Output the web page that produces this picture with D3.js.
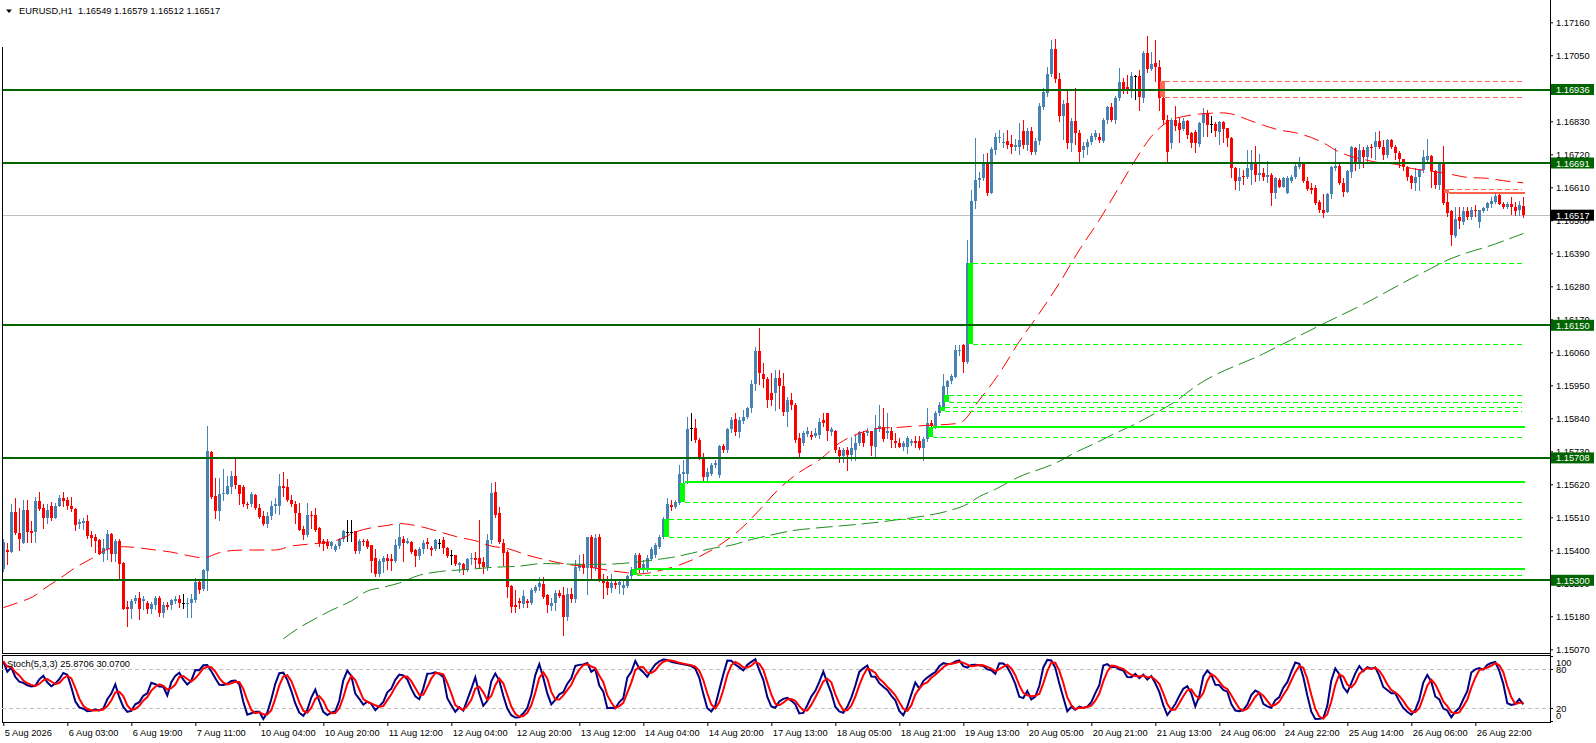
<!DOCTYPE html>
<html><head><meta charset="utf-8">
<script src="https://cdn.jsdelivr.net/npm/d3@7"></script>
<style>
html,body{margin:0;padding:0;background:#fff;overflow:hidden;}
svg{display:block;}
text{font-family:"Liberation Sans",Arial,sans-serif;font-size:9.3px;}
</style></head><body>
<svg id="c" width="1596" height="743"></svg>
<script>
// ---------------- DATA ----------------
const symbolTitle = "EURUSD,H1";
const lastQuote = [1.16549, 1.16579, 1.16512, 1.16517];
const currentPrice = 1.16517;

const opens = [1.15338,1.15400,1.15394,1.15529,1.15458,1.15425,1.15536,1.15463,1.15461,1.15563,
1.15541,1.15509,1.15549,1.15507,1.15547,1.15575,1.15567,1.15549,1.15538,1.15487,
1.15492,1.15497,1.15452,1.15443,1.15433,1.15386,1.15403,1.15456,1.15386,1.15431,
1.15359,1.15210,1.15205,1.15231,1.15242,1.15231,1.15225,1.15203,1.15216,1.15242,
1.15192,1.15219,1.15216,1.15231,1.15236,1.15223,1.15221,1.15223,1.15234,1.15294,
1.15270,1.15331,1.15727,1.15581,1.15531,1.15586,1.15589,1.15612,1.15649,1.15619,
1.15612,1.15556,1.15553,1.15583,1.15542,1.15516,1.15489,1.15514,1.15547,1.15547,
1.15614,1.15612,1.15569,1.15555,1.15525,1.15472,1.15450,1.15519,1.15519,1.15474,
1.15432,1.15427,1.15414,1.15401,1.15414,1.15436,1.15461,1.15461,1.15463,1.15397,
1.15431,1.15431,1.15416,1.15373,1.15320,1.15361,1.15373,1.15370,1.15364,1.15414,
1.15438,1.15425,1.15427,1.15401,1.15381,1.15403,1.15428,1.15406,1.15403,1.15425,
1.15434,1.15406,1.15384,1.15384,1.15351,1.15356,1.15336,1.15370,1.15373,1.15373,
1.15362,1.15345,1.15434,1.15595,1.15523,1.15425,1.15395,1.15281,1.15217,1.15232,
1.15221,1.15232,1.15223,1.15265,1.15277,1.15287,1.15251,1.15214,1.15223,1.15258,
1.15251,1.15179,1.15256,1.15236,1.15340,1.15356,1.15340,1.15445,1.15340,1.15443,
1.15303,1.15295,1.15273,1.15292,1.15284,1.15273,1.15281,1.15314,1.15336,1.15384,
1.15336,1.15336,1.15370,1.15384,1.15412,1.15443,1.15501,1.15551,1.15545,1.15559,
1.15656,1.15656,1.15806,1.15806,1.15767,1.15712,1.15645,1.15656,1.15684,1.15651,
1.15747,1.15734,1.15803,1.15836,1.15795,1.15832,1.15845,1.15873,1.15956,1.16065,
1.15987,1.15970,1.15923,1.15923,1.15976,1.15947,1.15862,1.15901,1.15884,1.15773,
1.15757,1.15788,1.15785,1.15782,1.15785,1.15833,1.15857,1.15793,1.15799,1.15733,
1.15713,1.15733,1.15718,1.15735,1.15759,1.15790,1.15790,1.15796,1.15744,1.15804,
1.15810,1.15790,1.15799,1.15766,1.15759,1.15746,1.15746,1.15757,1.15766,1.15766,
1.15740,1.15770,1.15824,1.15814,1.15857,1.15879,1.15946,1.15963,1.15979,1.16063,
1.16085,1.16029,1.16357,1.16563,1.16633,1.16640,1.16690,1.16590,1.16735,1.16774,
1.16757,1.16766,1.16755,1.16746,1.16744,1.16796,1.16751,1.16796,1.16729,1.16766,
1.16879,1.16926,1.16988,1.17071,1.16970,1.16846,1.16890,1.16757,1.16832,1.16790,
1.16733,1.16746,1.16762,1.16779,1.16779,1.16766,1.16835,1.16877,1.16835,1.16907,
1.16962,1.16944,1.16932,1.16981,1.16981,1.16907,1.17057,1.17004,1.17024,1.17010,
1.16907,1.16835,1.16759,1.16835,1.16824,1.16804,1.16831,1.16792,1.16795,1.16756,
1.16823,1.16856,1.16821,1.16821,1.16795,1.16828,1.16806,1.16776,1.16673,1.16632,
1.16647,1.16643,1.16667,1.16695,1.16651,1.16656,1.16643,1.16651,1.16592,1.16634,
1.16612,1.16592,1.16632,1.16643,1.16676,1.16690,1.16632,1.16608,1.16606,1.16562,
1.16534,1.16529,1.16587,1.16673,1.16681,1.16625,1.16595,1.16662,1.16740,1.16695,
1.16736,1.16712,1.16743,1.16743,1.16765,1.16743,1.16717,1.16767,1.16743,1.16725,
1.16703,1.16678,1.16647,1.16623,1.16645,1.16667,1.16701,1.16714,1.16665,1.16617,
1.16692,1.16562,1.16532,1.16447,1.16510,1.16495,1.16532,1.16512,1.16536,1.16495,
1.16532,1.16540,1.16556,1.16562,1.16584,1.16556,1.16543,1.16554,1.16545,1.16536,
1.16549];

const highs = [1.15436,1.15425,1.15556,1.15575,1.15542,1.15569,1.15569,1.15497,1.15578,1.15595,
1.15553,1.15553,1.15560,1.15558,1.15583,1.15595,1.15578,1.15578,1.15542,1.15503,
1.15508,1.15519,1.15464,1.15453,1.15438,1.15436,1.15469,1.15458,1.15436,1.15436,
1.15361,1.15231,1.15236,1.15250,1.15261,1.15248,1.15231,1.15228,1.15248,1.15248,
1.15228,1.15228,1.15236,1.15248,1.15250,1.15253,1.15242,1.15253,1.15309,1.15303,
1.15338,1.15814,1.15730,1.15642,1.15642,1.15672,1.15647,1.15664,1.15703,1.15619,
1.15619,1.15561,1.15594,1.15586,1.15553,1.15531,1.15527,1.15564,1.15575,1.15656,
1.15660,1.15636,1.15583,1.15564,1.15558,1.15481,1.15558,1.15531,1.15542,1.15478,
1.15436,1.15436,1.15431,1.15420,1.15442,1.15469,1.15501,1.15501,1.15464,1.15436,
1.15438,1.15436,1.15416,1.15403,1.15370,1.15381,1.15386,1.15386,1.15438,1.15489,
1.15447,1.15442,1.15431,1.15403,1.15410,1.15434,1.15440,1.15414,1.15436,1.15436,
1.15445,1.15412,1.15401,1.15384,1.15362,1.15359,1.15373,1.15390,1.15395,1.15501,
1.15379,1.15456,1.15625,1.15628,1.15545,1.15436,1.15401,1.15284,1.15267,1.15240,
1.15267,1.15236,1.15273,1.15284,1.15312,1.15312,1.15256,1.15240,1.15267,1.15267,
1.15279,1.15273,1.15276,1.15367,1.15384,1.15387,1.15445,1.15451,1.15456,1.15454,
1.15321,1.15314,1.15321,1.15306,1.15303,1.15301,1.15317,1.15345,1.15390,1.15390,
1.15367,1.15384,1.15412,1.15425,1.15451,1.15512,1.15573,1.15567,1.15567,1.15684,
1.15701,1.15843,1.15856,1.15836,1.15773,1.15723,1.15673,1.15690,1.15701,1.15751,
1.15756,1.15806,1.15845,1.15856,1.15845,1.15867,1.15879,1.15967,1.16078,1.16141,
1.16023,1.15978,1.15990,1.16001,1.16001,1.15990,1.15912,1.15923,1.15890,1.15790,
1.15796,1.15810,1.15796,1.15807,1.15840,1.15859,1.15859,1.15810,1.15801,1.15746,
1.15740,1.15746,1.15779,1.15785,1.15799,1.15799,1.15807,1.15799,1.15852,1.15885,
1.15874,1.15857,1.15810,1.15790,1.15774,1.15766,1.15781,1.15770,1.15781,1.15781,
1.15777,1.15874,1.15833,1.15866,1.15893,1.15988,1.15968,1.15988,1.16085,1.16085,
1.16088,1.16435,1.16601,1.16774,1.16660,1.16721,1.16724,1.16746,1.16790,1.16800,
1.16790,1.16801,1.16785,1.16770,1.16824,1.16835,1.16807,1.16810,1.16775,1.16890,
1.16940,1.17010,1.17100,1.17105,1.16990,1.16900,1.16935,1.16840,1.16940,1.16800,
1.16760,1.16770,1.16790,1.16800,1.16790,1.16840,1.16882,1.16890,1.16915,1.17008,
1.16975,1.16985,1.16995,1.16985,1.17000,1.17065,1.17115,1.17060,1.17100,1.17035,
1.16912,1.16850,1.16840,1.16880,1.16840,1.16840,1.16834,1.16795,1.16801,1.16828,
1.16873,1.16867,1.16847,1.16828,1.16832,1.16832,1.16806,1.16778,1.16678,1.16673,
1.16667,1.16736,1.16736,1.16747,1.16721,1.16673,1.16698,1.16656,1.16645,1.16640,
1.16645,1.16647,1.16651,1.16687,1.16710,1.16692,1.16643,1.16623,1.16617,1.16567,
1.16587,1.16592,1.16681,1.16740,1.16687,1.16640,1.16667,1.16747,1.16745,1.16756,
1.16745,1.16751,1.16756,1.16795,1.16798,1.16767,1.16770,1.16770,1.16751,1.16732,
1.16706,1.16681,1.16651,1.16673,1.16670,1.16734,1.16770,1.16717,1.16667,1.16695,
1.16747,1.16590,1.16534,1.16545,1.16543,1.16545,1.16545,1.16545,1.16551,1.16534,
1.16545,1.16562,1.16579,1.16592,1.16595,1.16562,1.16562,1.16579,1.16562,1.16565,
1.16579];

const lows = [1.15330,1.15353,1.15394,1.15453,1.15401,1.15425,1.15427,1.15427,1.15427,1.15536,
1.15475,1.15492,1.15500,1.15507,1.15547,1.15547,1.15538,1.15531,1.15469,1.15475,
1.15472,1.15442,1.15414,1.15394,1.15386,1.15364,1.15370,1.15364,1.15364,1.15303,
1.15203,1.15148,1.15175,1.15225,1.15170,1.15203,1.15192,1.15192,1.15203,1.15181,
1.15179,1.15203,1.15203,1.15225,1.15212,1.15209,1.15179,1.15179,1.15228,1.15259,
1.15268,1.15268,1.15575,1.15508,1.15501,1.15569,1.15586,1.15592,1.15608,1.15553,
1.15549,1.15542,1.15547,1.15538,1.15508,1.15486,1.15478,1.15505,1.15525,1.15522,
1.15581,1.15564,1.15549,1.15492,1.15467,1.15438,1.15447,1.15475,1.15464,1.15414,
1.15401,1.15408,1.15408,1.15397,1.15408,1.15431,1.15431,1.15431,1.15390,1.15392,
1.15416,1.15408,1.15327,1.15316,1.15316,1.15327,1.15338,1.15336,1.15361,1.15408,
1.15364,1.15423,1.15392,1.15347,1.15370,1.15390,1.15406,1.15384,1.15401,1.15406,
1.15390,1.15379,1.15354,1.15351,1.15329,1.15321,1.15332,1.15356,1.15345,1.15340,
1.15323,1.15336,1.15425,1.15512,1.15425,1.15351,1.15245,1.15195,1.15195,1.15206,
1.15212,1.15210,1.15221,1.15262,1.15267,1.15240,1.15195,1.15201,1.15201,1.15245,
1.15117,1.15168,1.15229,1.15229,1.15334,1.15323,1.15256,1.15306,1.15334,1.15299,
1.15240,1.15256,1.15262,1.15273,1.15259,1.15256,1.15279,1.15306,1.15334,1.15329,
1.15329,1.15332,1.15367,1.15379,1.15406,1.15440,1.15495,1.15534,1.15540,1.15556,
1.15628,1.15623,1.15768,1.15762,1.15706,1.15634,1.15634,1.15650,1.15678,1.15645,
1.15728,1.15728,1.15795,1.15784,1.15779,1.15825,1.15840,1.15862,1.15934,1.15956,
1.15945,1.15879,1.15884,1.15867,1.15873,1.15851,1.15815,1.15870,1.15762,1.15712,
1.15752,1.15780,1.15770,1.15777,1.15774,1.15813,1.15768,1.15785,1.15729,1.15696,
1.15696,1.15668,1.15702,1.15702,1.15752,1.15748,1.15785,1.15718,1.15710,1.15796,
1.15766,1.15774,1.15746,1.15746,1.15744,1.15735,1.15724,1.15750,1.15746,1.15737,
1.15702,1.15766,1.15812,1.15807,1.15852,1.15877,1.15918,1.15957,1.15977,1.16050,
1.15993,1.16023,1.16357,1.16540,1.16610,1.16633,1.16585,1.16590,1.16720,1.16760,
1.16744,1.16740,1.16725,1.16735,1.16720,1.16740,1.16735,1.16720,1.16720,1.16755,
1.16870,1.16915,1.16980,1.16960,1.16830,1.16770,1.16740,1.16730,1.16755,1.16690,
1.16712,1.16720,1.16755,1.16770,1.16760,1.16760,1.16825,1.16830,1.16825,1.16900,
1.16925,1.16925,1.16910,1.16905,1.16868,1.16895,1.16995,1.17000,1.16965,1.16868,
1.16820,1.16690,1.16740,1.16800,1.16760,1.16801,1.16776,1.16743,1.16728,1.16747,
1.16781,1.16781,1.16795,1.16781,1.16756,1.16762,1.16747,1.16645,1.16603,1.16601,
1.16621,1.16640,1.16621,1.16632,1.16634,1.16634,1.16628,1.16551,1.16573,1.16610,
1.16612,1.16592,1.16628,1.16640,1.16673,1.16628,1.16601,1.16592,1.16556,1.16529,
1.16510,1.16529,1.16576,1.16667,1.16621,1.16581,1.16595,1.16643,1.16667,1.16673,
1.16678,1.16690,1.16712,1.16706,1.16740,1.16706,1.16712,1.16740,1.16703,1.16676,
1.16667,1.16634,1.16606,1.16601,1.16601,1.16662,1.16695,1.16612,1.16606,1.16603,
1.16556,1.16514,1.16417,1.16445,1.16473,1.16487,1.16503,1.16506,1.16514,1.16478,
1.16529,1.16536,1.16545,1.16559,1.16554,1.16540,1.16540,1.16521,1.16517,1.16517,
1.16512];

const closes = [1.15427,1.15394,1.15529,1.15458,1.15438,1.15536,1.15461,1.15458,1.15566,1.15538,
1.15507,1.15536,1.15508,1.15549,1.15575,1.15563,1.15547,1.15538,1.15486,1.15494,
1.15497,1.15447,1.15442,1.15431,1.15386,1.15408,1.15453,1.15386,1.15431,1.15353,
1.15205,1.15203,1.15231,1.15242,1.15203,1.15239,1.15203,1.15220,1.15242,1.15192,
1.15216,1.15212,1.15233,1.15236,1.15223,1.15223,1.15225,1.15236,1.15294,1.15268,
1.15334,1.15730,1.15578,1.15531,1.15589,1.15592,1.15614,1.15649,1.15616,1.15586,
1.15553,1.15553,1.15586,1.15542,1.15512,1.15489,1.15516,1.15549,1.15553,1.15614,
1.15607,1.15567,1.15553,1.15525,1.15469,1.15450,1.15519,1.15516,1.15469,1.15425,
1.15420,1.15414,1.15427,1.15414,1.15438,1.15463,1.15461,1.15461,1.15397,1.15431,
1.15427,1.15412,1.15364,1.15320,1.15363,1.15373,1.15364,1.15364,1.15416,1.15444,
1.15425,1.15431,1.15394,1.15381,1.15405,1.15425,1.15421,1.15401,1.15434,1.15425,
1.15406,1.15381,1.15384,1.15356,1.15359,1.15336,1.15370,1.15376,1.15367,1.15356,
1.15345,1.15434,1.15592,1.15517,1.15428,1.15390,1.15279,1.15212,1.15212,1.15225,
1.15247,1.15223,1.15267,1.15279,1.15290,1.15245,1.15217,1.15225,1.15258,1.15247,
1.15179,1.15256,1.15236,1.15345,1.15356,1.15340,1.15443,1.15340,1.15440,1.15301,
1.15290,1.15273,1.15292,1.15284,1.15295,1.15284,1.15314,1.15336,1.15384,1.15336,
1.15356,1.15373,1.15403,1.15417,1.15443,1.15506,1.15556,1.15543,1.15560,1.15656,
1.15662,1.15803,1.15806,1.15767,1.15712,1.15645,1.15662,1.15684,1.15692,1.15747,
1.15734,1.15803,1.15834,1.15795,1.15834,1.15845,1.15873,1.15956,1.16065,1.15990,
1.15970,1.15901,1.15901,1.15976,1.15947,1.15862,1.15901,1.15884,1.15767,1.15723,
1.15790,1.15796,1.15777,1.15790,1.15829,1.15824,1.15796,1.15804,1.15735,1.15713,
1.15733,1.15718,1.15740,1.15759,1.15793,1.15759,1.15799,1.15748,1.15807,1.15813,
1.15770,1.15799,1.15768,1.15757,1.15746,1.15759,1.15774,1.15763,1.15759,1.15740,
1.15770,1.15824,1.15814,1.15857,1.15885,1.15948,1.15963,1.15982,1.16066,1.16068,
1.16029,1.16357,1.16563,1.16635,1.16640,1.16690,1.16590,1.16737,1.16777,1.16777,
1.16762,1.16751,1.16744,1.16751,1.16768,1.16751,1.16796,1.16729,1.16766,1.16881,
1.16929,1.16988,1.17071,1.16970,1.16846,1.16888,1.16757,1.16832,1.16790,1.16729,
1.16748,1.16762,1.16781,1.16790,1.16768,1.16835,1.16877,1.16835,1.16907,1.16962,
1.16932,1.16932,1.16981,1.16981,1.16910,1.17057,1.17004,1.17021,1.17010,1.16907,
1.16835,1.16729,1.16835,1.16815,1.16801,1.16831,1.16784,1.16758,1.16758,1.16823,
1.16856,1.16817,1.16821,1.16797,1.16828,1.16804,1.16776,1.16673,1.16632,1.16645,
1.16643,1.16673,1.16695,1.16651,1.16656,1.16643,1.16651,1.16592,1.16640,1.16612,
1.16640,1.16640,1.16645,1.16681,1.16687,1.16632,1.16603,1.16601,1.16559,1.16534,
1.16525,1.16587,1.16678,1.16681,1.16625,1.16595,1.16664,1.16743,1.16695,1.16734,
1.16712,1.16745,1.16740,1.16765,1.16743,1.16717,1.16767,1.16743,1.16725,1.16703,
1.16678,1.16645,1.16623,1.16645,1.16667,1.16710,1.16714,1.16665,1.16617,1.16692,
1.16559,1.16525,1.16451,1.16503,1.16498,1.16532,1.16512,1.16534,1.16532,1.16534,
1.16540,1.16559,1.16565,1.16581,1.16556,1.16543,1.16556,1.16545,1.16532,1.16551,
1.16517];

const timeLabels = ["5 Aug 2026","6 Aug 03:00","6 Aug 19:00","7 Aug 11:00","10 Aug 04:00","10 Aug 20:00",
"11 Aug 12:00","12 Aug 04:00","12 Aug 20:00","13 Aug 12:00","14 Aug 04:00","14 Aug 20:00",
"17 Aug 13:00","18 Aug 05:00","18 Aug 21:00","19 Aug 13:00","20 Aug 05:00","20 Aug 21:00",
"21 Aug 13:00","24 Aug 06:00","24 Aug 22:00","25 Aug 14:00","26 Aug 06:00","26 Aug 22:00"];
const timeLabelStep = 16;

const priceTicks = [1.17160,1.17050,1.16940,1.16830,1.16720,1.16610,1.16500,1.16390,1.16280,1.16170,
1.16060,1.15950,1.15840,1.15730,1.15620,1.15510,1.15400,1.15290,1.15180,1.15070];

const levelPrices = [1.16936, 1.16691, 1.16150, 1.15708, 1.15300];

// moving averages read at sample bars
const redMaBars = [0,4,8,10,14,18,22,26,30,34,38,42,46,50,54,58,62,68,72,76,80,84,88,92,96,99,104,109,114,118,122,126,131,136,141,146,151,156,159,164,169,174,179,184,189,194,199,204,209,214,219,224,229,234,239,244,249,254,259,264,269,274,279,283,287,292,295,299,305,308,311,315,319,323,327,331,333,336,340,344,348,352,357,362,366,371,375,380];
const redMaValues = [1.15209,1.15227,1.15250,1.15270,1.15305,1.15342,1.15372,1.15403,1.15412,1.15408,1.15401,1.15394,1.15383,1.15375,1.15392,1.15400,1.15401,1.15401,1.15414,1.15420,1.15425,1.15436,1.15461,1.15475,1.15483,1.15489,1.15480,1.15462,1.15443,1.15432,1.15414,1.15406,1.15384,1.15367,1.15353,1.15345,1.15334,1.15325,1.15321,1.15332,1.15351,1.15379,1.15417,1.15467,1.15534,1.15606,1.15660,1.15701,1.15757,1.15790,1.15807,1.15810,1.15815,1.15818,1.15824,1.15901,1.15990,1.16096,1.16190,1.16290,1.16401,1.16501,1.16612,1.16701,1.16779,1.16835,1.16846,1.16854,1.16858,1.16851,1.16836,1.16817,1.16801,1.16792,1.16776,1.16751,1.16734,1.16717,1.16703,1.16692,1.16687,1.16673,1.16664,1.16653,1.16643,1.16640,1.16632,1.16625];

const greenMaBars = [70,74,78,82,87,91,95,99,104,109,116,122,129,135,141,146,152,157,162,167,172,177,182,187,192,197,203,209,214,219,223,228,233,237,241,244,248,251,255,258,263,268,273,278,283,288,293,298,315,330,340,352,357,361,366,371,376,380];
const greenMaValues = [1.15105,1.15142,1.15172,1.15200,1.15231,1.15264,1.15277,1.15291,1.15317,1.15329,1.15336,1.15343,1.15347,1.15356,1.15354,1.15353,1.15354,1.15359,1.15367,1.15376,1.15390,1.15406,1.15417,1.15436,1.15451,1.15465,1.15474,1.15481,1.15487,1.15494,1.15501,1.15510,1.15521,1.15534,1.15554,1.15579,1.15603,1.15625,1.15651,1.15665,1.15690,1.15726,1.15757,1.15790,1.15821,1.15857,1.15896,1.15946,1.16055,1.16155,1.16220,1.16306,1.16340,1.16367,1.16392,1.16412,1.16436,1.16456];

// imbalance zones
const bullZoneBars = [157,165,169,231,234,235,241];
const bullZoneTops = [1.15337,1.15506,1.15626,1.15812,1.15877,1.15918,1.16357];
const bullZoneBottoms = [1.15317,1.15443,1.15560,1.15777,1.15866,1.15893,1.16088];
const bullZoneTopActive = [true,false,true,true,false,false,false];
const bearZoneBars = [289,360];
const bearZoneTops = [1.16965,1.16603];
const bearZoneBottoms = [1.16912,1.16590];
const bearZoneBottomActive = [false,true];

const stochParams = [5,3,3];
const stochReadout = [25.8706, 30.0700];
const stochLevels = [80, 20];
const stochAxisLabels = [100, 80, 20, 0];

// ---------------- DRAW ----------------
const svg = d3.select("#c");
const n = closes.length;
const bars = d3.range(n).map(i => ({i, o: opens[i], h: highs[i], l: lows[i], c: closes[i]}));

const AX = 1550, LEFT = 2, MAIN_BOTTOM = 653, ST_TOP = 655.5, ST_BOTTOM = 721.5;
const x = d3.scaleLinear().domain([0, n - 1]).range([3.3, 1523.3]);
const y = d3.scaleLinear().domain([1.15070, 1.17160]).range([649.3, 22.3]);
const ys = d3.scaleLinear().domain([0, 100]).range([721.4, 655.9]);
const px = i => Math.round(x(i));
const lineEnd = px(n - 1) + 1;

const defs = svg.append("defs");
defs.append("clipPath").attr("id", "mainClip").append("rect")
  .attr("x", LEFT).attr("y", 0).attr("width", AX - LEFT).attr("height", MAIN_BOTTOM);
defs.append("clipPath").attr("id", "stClip").append("rect")
  .attr("x", LEFT).attr("y", ST_TOP).attr("width", AX - LEFT).attr("height", ST_BOTTOM - ST_TOP);

const main = svg.append("g").attr("clip-path", "url(#mainClip)");

// bid line
main.append("line").attr("x1", LEFT).attr("x2", AX)
  .attr("y1", Math.round(y(currentPrice)) + 0.5).attr("y2", Math.round(y(currentPrice)) + 0.5)
  .attr("stroke", "#c0c0c0").attr("stroke-width", 1);

// candles
const col = d => d.c > d.o ? "#4682b4" : (d.c < d.o ? "#ff0000" : "#000000");
const cg = main.append("g").attr("shape-rendering", "crispEdges");
cg.selectAll("rect.wick").data(bars).join("rect").attr("class", "wick")
  .attr("x", d => px(d.i)).attr("width", 1)
  .attr("y", d => Math.round(y(d.h)))
  .attr("height", d => Math.max(1, Math.round(y(d.l)) - Math.round(y(d.h)) + 1))
  .attr("fill", col);
cg.selectAll("rect.body").data(bars).join("rect").attr("class", "body")
  .attr("x", d => px(d.i) - 1).attr("width", 3)
  .attr("y", d => Math.round(y(Math.max(d.o, d.c))))
  .attr("height", d => Math.max(1, Math.round(y(Math.min(d.o, d.c))) - Math.round(y(Math.max(d.o, d.c)))))
  .attr("fill", col);

// moving averages
const maLine = d3.line().x(d => x(d[0])).y(d => y(d[1])).curve(d3.curveMonotoneX);
main.append("path").datum(redMaBars.map((b, k) => [b, redMaValues[k]]))
  .attr("d", maLine).attr("fill", "none").attr("stroke", "#ff0000").attr("stroke-width", 1)
  .attr("stroke-dasharray", "15,7");
main.append("path").datum(greenMaBars.map((b, k) => [b, greenMaValues[k]]))
  .attr("d", maLine).attr("fill", "none").attr("stroke", "#1f8c1f").attr("stroke-width", 1)
  .attr("stroke-dasharray", "17,6");

// zones
const zg = main.append("g").attr("shape-rendering", "crispEdges");
function hline(g, yv, x1, color, solid) {
  const yy = solid ? Math.round(y(yv)) : Math.round(y(yv)) + 0.5;
  g.append("line").attr("x1", x1).attr("x2", solid ? lineEnd + 1 : lineEnd - 2)
    .attr("y1", yy).attr("y2", yy).attr("stroke", color)
    .attr("stroke-width", solid ? 2.5 : 1)
    .attr("stroke-dasharray", solid ? null : "5,3");
}
bullZoneBars.forEach((b, k) => {
  const x0 = px(b) + 1, x1 = px(b + 1) + 2;
  zg.append("rect").attr("x", x0).attr("width", x1 - x0)
    .attr("y", y(bullZoneTops[k])).attr("height", y(bullZoneBottoms[k]) - y(bullZoneTops[k]))
    .attr("fill", "#00ff00");
  hline(zg, bullZoneTops[k], x1, "#00ff00", bullZoneTopActive[k]);
  hline(zg, bullZoneBottoms[k], x1, "#00ff00", false);
});
bearZoneBars.forEach((b, k) => {
  const x0 = px(b) + 1, x1 = px(b + 1) + 2;
  zg.append("rect").attr("x", x0).attr("width", x1 - x0)
    .attr("y", y(bearZoneTops[k])).attr("height", y(bearZoneBottoms[k]) - y(bearZoneTops[k]))
    .attr("fill", "#ff6a55");
  hline(zg, bearZoneTops[k], x1, "#ff6347", false);
  hline(zg, bearZoneBottoms[k], x1, "#ff6347", bearZoneBottomActive[k]);
});

// key levels
main.append("g").attr("shape-rendering", "crispEdges").selectAll("line").data(levelPrices).join("line")
  .attr("x1", LEFT).attr("x2", AX).attr("y1", d => Math.round(y(d))).attr("y2", d => Math.round(y(d)))
  .attr("stroke", "#006400").attr("stroke-width", 2);

// price axis
const yAxis = svg.append("g").attr("transform", `translate(${AX},0)`)
  .call(d3.axisRight(y).tickValues(priceTicks).tickFormat(d3.format(".5f")).tickSize(3).tickPadding(3));
yAxis.select(".domain").remove();
yAxis.selectAll("text").attr("fill", "#000").style("font-size", "9.3px").style("font-family", '"Liberation Sans",Arial,sans-serif');
yAxis.selectAll("line").attr("stroke", "#000");

// level labels
const lab = svg.append("g");
levelPrices.forEach(p => {
  const yy = y(p);
  lab.append("rect").attr("x", AX + 1).attr("y", yy - 5.5).attr("width", 43).attr("height", 11).attr("fill", "#006400");
  lab.append("text").attr("x", AX + 6).attr("y", yy + 3.5).attr("fill", "#fff").text(p.toFixed(5));
});
{
  const yy = y(currentPrice);
  lab.append("rect").attr("x", AX + 1).attr("y", yy - 5.5).attr("width", 43).attr("height", 11).attr("fill", "#000");
  lab.append("text").attr("x", AX + 6).attr("y", yy + 3.5).attr("fill", "#fff").text(currentPrice.toFixed(5));
}

// frames
const fr = svg.append("g").attr("shape-rendering", "crispEdges").attr("stroke", "#000").attr("fill", "none");
fr.append("line").attr("x1", AX + 0.5).attr("x2", AX + 0.5).attr("y1", 0).attr("y2", ST_BOTTOM + 0.5);
fr.append("line").attr("x1", LEFT + 0.5).attr("x2", LEFT + 0.5).attr("y1", 47).attr("y2", MAIN_BOTTOM + 1);
fr.append("line").attr("x1", LEFT).attr("x2", AX + 1).attr("y1", 653.5).attr("y2", 653.5);
fr.append("line").attr("x1", LEFT).attr("x2", AX + 1).attr("y1", 655.5).attr("y2", 655.5);
fr.append("line").attr("x1", LEFT + 0.5).attr("x2", LEFT + 0.5).attr("y1", ST_TOP).attr("y2", ST_BOTTOM + 0.5);
fr.append("line").attr("x1", LEFT).attr("x2", AX + 1).attr("y1", ST_BOTTOM + 0.5).attr("y2", ST_BOTTOM + 0.5);

// header
svg.append("path").attr("d", "M6,9.5 L12,9.5 L9,13 Z").attr("fill", "#000");
svg.append("text").attr("x", 19).attr("y", 14).attr("fill", "#000")
  .attr("xml:space", "preserve")
  .text(symbolTitle + "  " + lastQuote.map(v => v.toFixed(5)).join(" "));

// stochastic (5,3,3) from the candles
const [kP, dP, sP] = stochParams;
const hh = [], ll = [];
for (let i = 0; i < n; i++) {
  const a = Math.max(0, i - kP + 1);
  hh.push(d3.max(highs.slice(a, i + 1)));
  ll.push(d3.min(lows.slice(a, i + 1)));
}
const mainK = [];
for (let i = 0; i < n; i++) {
  const a = Math.max(0, i - sP + 1);
  let num = 0, den = 0;
  for (let j = a; j <= i; j++) { num += closes[j] - ll[j]; den += hh[j] - ll[j]; }
  mainK.push(den === 0 ? 50 : num / den * 100);
}
const sigD = mainK.map((v, i) => d3.mean(mainK.slice(Math.max(0, i - dP + 1), i + 1)));

const st = svg.append("g").attr("clip-path", "url(#stClip)");
st.selectAll("line.lvl").data(stochLevels).join("line")
  .attr("x1", LEFT).attr("x2", AX).attr("y1", d => Math.round(ys(d)) + 0.5).attr("y2", d => Math.round(ys(d)) + 0.5)
  .attr("stroke", "#c0c0c0").attr("stroke-dasharray", "4,3");
const sLine = d3.line().x((d, i) => x(i)).y(d => ys(d));
st.append("path").datum(mainK).attr("d", sLine).attr("fill", "none").attr("stroke", "#000080").attr("stroke-width", 2);
st.append("path").datum(sigD).attr("d", sLine).attr("fill", "none").attr("stroke", "#ff0000").attr("stroke-width", 2);

svg.append("text").attr("x", 7).attr("y", 667).attr("fill", "#000")
  .text(`Stoch(${stochParams.join(",")}) ${stochReadout[0].toFixed(4)} ${stochReadout[1].toFixed(4)}`);

const sl = svg.append("g");
stochAxisLabels.forEach(v => {
  const base = Math.min(719.3, Math.max(665.5, ys(v) + 3.5));
  sl.append("text").attr("x", AX + 6).attr("y", base).attr("fill", "#000").text(v);
  sl.append("line").attr("x1", AX).attr("x2", AX + 3).attr("y1", Math.round(ys(v)) + 0.5).attr("y2", Math.round(ys(v)) + 0.5)
    .attr("stroke", "#000").attr("shape-rendering", "crispEdges");
});

// time axis
const xAxis = svg.append("g").attr("transform", `translate(0,${ST_BOTTOM + 0.5})`)
  .call(d3.axisBottom(x).tickValues(d3.range(0, n, timeLabelStep)).tickFormat((d, k) => timeLabels[k]).tickSize(4).tickPadding(3));
xAxis.select(".domain").remove();
xAxis.selectAll("line").attr("stroke", "#000");
xAxis.selectAll("text").attr("text-anchor", "start").attr("dx", "1").attr("fill", "#000")
  .style("font-size", "9.3px").style("font-family", '"Liberation Sans",Arial,sans-serif');
</script>
</body></html>
